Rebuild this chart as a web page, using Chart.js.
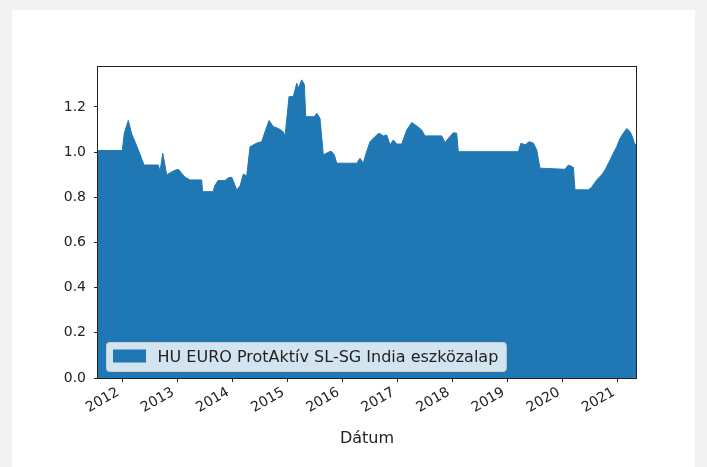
<!DOCTYPE html>
<html lang="hu">
<head>
    <meta charset="utf-8" />
    <title>HU EURO ProtAktív SL-SG India eszközalap</title>
    <script src="https://cdn.jsdelivr.net/npm/chart.js@4.4.1/dist/chart.umd.min.js"></script>
    <style>
        body { margin: 0; background: #f2f2f2; }
        #panel { position: absolute; left: 12px; top: 10px; width: 683px; height: 457px; background: #fff; }
    </style>
</head>
<body>
    <div id="panel">
        <canvas id="fundChart"></canvas>
    </div>
    <script type="text/javascript">
        // dates as decimal years
        const dates = [
            2011.564, 2012.005, 2012.042, 2012.114, 2012.176, 2012.236, 2012.296, 2012.358, 2012.399, 2012.659,
            2012.690, 2012.739, 2012.811, 2012.962, 2013.022, 2013.143, 2013.234, 2013.446, 2013.461, 2013.657,
            2013.679, 2013.742, 2013.869, 2013.924, 2013.991, 2014.082, 2014.142, 2014.201, 2014.263, 2014.323,
            2014.383, 2014.445, 2014.535, 2014.595, 2014.668, 2014.746, 2014.837, 2014.927, 2014.958, 2015.031,
            2015.109, 2015.171, 2015.200, 2015.261, 2015.309, 2015.334, 2015.490, 2015.534, 2015.593, 2015.653,
            2015.793, 2015.853, 2015.897, 2016.260, 2016.319, 2016.379, 2016.423, 2016.501, 2016.592, 2016.664,
            2016.742, 2016.804, 2016.864, 2016.924, 2016.985, 2017.076, 2017.167, 2017.258, 2017.348, 2017.439,
            2017.499, 2017.802, 2017.862, 2017.922, 2018.013, 2018.074, 2018.103, 2019.192, 2019.241, 2019.314,
            2019.387, 2019.465, 2019.526, 2019.586, 2020.040, 2020.100, 2020.191, 2020.221, 2020.463, 2020.524,
            2020.615, 2020.706, 2020.766, 2020.857, 2020.917, 2020.978, 2021.038, 2021.098, 2021.160, 2021.220,
            2021.261, 2021.298, 2021.328
        ];
        const prices = [
            1.007, 1.007, 1.085, 1.140, 1.080, 1.046, 1.010, 0.970, 0.943, 0.943,
            0.914, 0.995, 0.900, 0.920, 0.924, 0.889, 0.877, 0.877, 0.825, 0.825,
            0.850, 0.874, 0.874, 0.886, 0.889, 0.833, 0.850, 0.903, 0.894, 1.024,
            1.032, 1.040, 1.046, 1.090, 1.140, 1.113, 1.105, 1.090, 1.069, 1.246,
            1.246, 1.305, 1.283, 1.320, 1.300, 1.157, 1.157, 1.172, 1.150, 0.988,
            1.005, 0.988, 0.951, 0.951, 0.973, 0.951, 0.990, 1.046, 1.069, 1.084,
            1.072, 1.076, 1.032, 1.054, 1.036, 1.036, 1.098, 1.131, 1.116, 1.098,
            1.072, 1.072, 1.042, 1.061, 1.086, 1.084, 1.002, 1.002, 1.040, 1.032,
            1.046, 1.040, 1.010, 0.929, 0.924, 0.943, 0.933, 0.833, 0.833, 0.845,
            0.877, 0.900, 0.921, 0.965, 0.995, 1.024, 1.061, 1.084, 1.105, 1.091,
            1.069, 1.040, 1.030
        ];
        const yearTicks = [2012, 2013, 2014, 2015, 2016, 2017, 2018, 2019, 2020, 2021];
        const valueTicks = [0.0, 0.2, 0.4, 0.6, 0.8, 1.0, 1.2];
        const seriesName = 'HU EURO ProtAktív SL-SG India eszközalap';
        const xTitle = 'Dátum';

        const blue = '#1f77b4';
        const fontFamily = "'DejaVu Sans', sans-serif";

        // black box round the plot, like matplotlib spines
        const framePlugin = {
            id: 'frame',
            afterDraw(chart) {
                const a = chart.chartArea;
                const ctx = chart.ctx;
                ctx.save();
                ctx.strokeStyle = '#222';
                ctx.lineWidth = 1;
                ctx.strokeRect(Math.round(a.left) - 0.5, Math.round(a.top) - 0.5,
                    Math.round(a.right - a.left) + 1, Math.round(a.bottom - a.top) + 1);
                ctx.restore();
            }
        };

        // legend in the lower left corner inside the plot
        const insideLegend = {
            id: 'insideLegend',
            afterDraw(chart) {
                const a = chart.chartArea;
                const ctx = chart.ctx;
                ctx.save();
                ctx.font = '16px ' + fontFamily;
                const textW = ctx.measureText(seriesName).width;
                const left = a.left + 8.5;
                const top = a.bottom - 35.5;
                const w = 52 + textW + 7;
                const h = 29;
                ctx.beginPath();
                ctx.roundRect(left, top, w, h, 3);
                ctx.fillStyle = 'rgba(255,255,255,0.8)';
                ctx.fill();
                ctx.strokeStyle = '#cccccc';
                ctx.lineWidth = 1;
                ctx.stroke();
                ctx.fillStyle = blue;
                ctx.fillRect(left + 6.5, top + 7, 33, 13);
                ctx.fillStyle = '#222';
                ctx.textBaseline = 'middle';
                ctx.fillText(seriesName, left + 51, top + h / 2 + 0.5);
                ctx.restore();
            }
        };

        const chartContext = document.getElementById('fundChart').getContext('2d');
        const fundChart = new Chart(chartContext, {
            type: 'line',
            data: {
                datasets: [
                    {
                        'label': seriesName,
                        'data': dates.map((d, i) => ({ x: d, y: prices[i] })),
                        'backgroundColor': blue,
                        'borderColor': blue,
                        'borderWidth': 1,
                        'pointRadius': 0,
                        'fill': 'origin',
                        'tension': 0,
                    }
                ]
            },
            options: {
                responsive: true,
                maintainAspectRatio: false,
                devicePixelRatio: 1,
                animation: false,
                layout: { padding: { left: 0, top: 57, right: 59, bottom: 0 } },
                plugins: {
                    legend: { display: false },
                    tooltip: { enabled: false }
                },
                scales: {
                    x: {
                        type: 'linear',
                        min: 2011.564,
                        max: 2021.328,
                        afterBuildTicks: (scale) => { scale.ticks = yearTicks.map(v => ({ value: v })); },
                        afterFit: (scale) => { scale.height = 89; },
                        border: { display: false },
                        grid: { drawOnChartArea: false, drawTicks: true, tickLength: 4, tickColor: '#222' },
                        ticks: {
                            autoSkip: false,
                            minRotation: 30,
                            maxRotation: 30,
                            padding: 2,
                            labelOffset: -4,
                            color: '#222',
                            font: { family: fontFamily, size: 14 },
                            callback: (v) => String(v)
                        },
                        title: {
                            display: true,
                            text: xTitle,
                            color: '#222',
                            font: { family: fontFamily, size: 16 },
                            padding: { top: 0, bottom: 19 }
                        }
                    },
                    y: {
                        type: 'linear',
                        min: 0,
                        max: 1.377,
                        afterBuildTicks: (scale) => { scale.ticks = valueTicks.map(v => ({ value: v })); },
                        afterFit: (scale) => { scale.width = 86; },
                        border: { display: false },
                        grid: { drawOnChartArea: false, drawTicks: true, tickLength: 4, tickColor: '#222' },
                        ticks: {
                            padding: 8,
                            color: '#222',
                            font: { family: fontFamily, size: 14 },
                            callback: (v) => Number(v).toFixed(1)
                        }
                    }
                }
            },
            plugins: [framePlugin, insideLegend]
        });
    </script>
</body>
</html>
